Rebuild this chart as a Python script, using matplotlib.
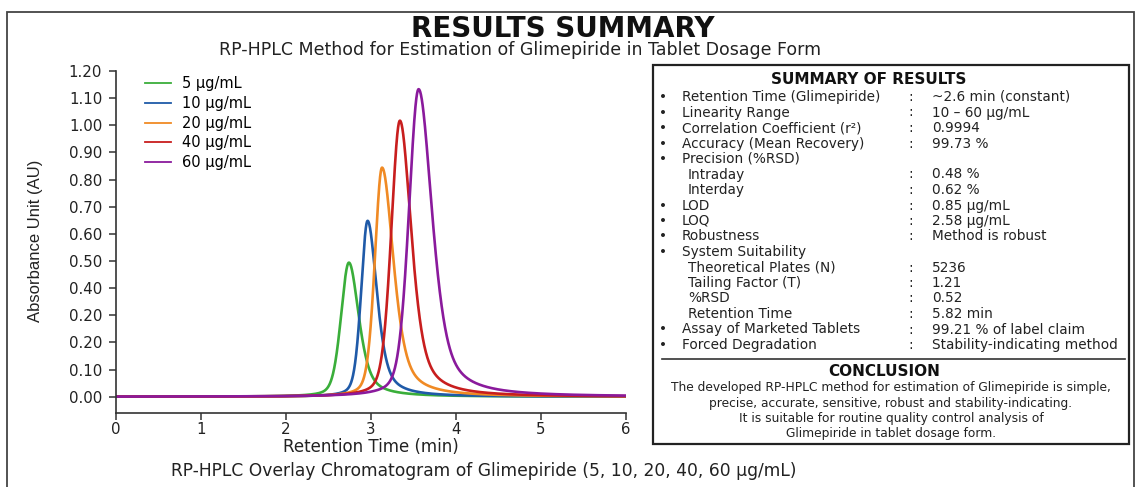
import numpy as np
import matplotlib
matplotlib.use("Agg")
import matplotlib.pyplot as plt
from matplotlib.patches import Rectangle
from matplotlib.lines import Line2D

# ---------------- data ----------------
legend_labels = ["5 µg/mL", "10 µg/mL", "20 µg/mL", "40 µg/mL", "60 µg/mL"]
retention_times = [2.74, 2.96, 3.13, 3.34, 3.56]
peak_heights = [0.494, 0.648, 0.844, 1.017, 1.133]
left_hwhm = [0.11, 0.09, 0.10, 0.12, 0.135]
right_hwhm = [0.14, 0.13, 0.16, 0.16, 0.19]
line_colors = ["#3aae3a", "#1f5aa8", "#f08a24", "#c81e1e", "#8a1a9c"]

x_ticks = [0, 1, 2, 3, 4, 5, 6]
y_ticks = [0.0, 0.1, 0.2, 0.3, 0.4, 0.5, 0.6, 0.7, 0.8, 0.9, 1.0, 1.1, 1.2]
y_tick_labels = ["0.00", "0.10", "0.20", "0.20", "0.40", "0.50", "0.60",
                 "0.70", "0.80", "0.90", "1.00", "1.10", "1.20"]

summary_labels = ["Retention Time (Glimepiride)", "Linearity Range",
                  "Correlation Coefficient (r²)", "Accuracy (Mean Recovery)",
                  "Precision (%RSD)", "Intraday", "Interday", "LOD", "LOQ",
                  "Robustness", "System Suitability", "Theoretical Plates (N)",
                  "Tailing Factor (T)", "%RSD", "Retention Time",
                  "Assay of Marketed Tablets", "Forced Degradation"]
summary_values = ["~2.6 min (constant)", "10 – 60 µg/mL", "0.9994", "99.73 %",
                  "", "0.48 %", "0.62 %", "0.85 µg/mL", "2.58 µg/mL",
                  "Method is robust", "", "5236", "1.21", "0.52", "5.82 min",
                  "99.21 % of label claim", "Stability-indicating method"]
summary_is_sub = [False, False, False, False, False, True, True, False, False,
                  False, False, True, True, True, True, False, False]
conclusion_lines = [
    "The developed RP-HPLC method for estimation of Glimepiride is simple,",
    "precise, accurate, sensitive, robust and stability-indicating.",
    "It is suitable for routine quality control analysis of",
    "Glimepiride in tablet dosage form.",
]

# ---------------- figure ----------------
W, H = 1138, 487
fig = plt.figure(figsize=(W / 100, H / 100), dpi=100)
fig.patch.set_facecolor("white")


def fx(px):
    return px / W


def fy(py):
    return 1 - py / H


# outer frame
fig.patches.append(Rectangle((fx(7), fy(500)), fx(1134) - fx(7), fy(12) - fy(500),
                             transform=fig.transFigure, fill=False,
                             edgecolor="#444444", linewidth=1.3))

fig.text(fx(563), fy(29), "RESULTS SUMMARY", ha="center", va="center",
         fontsize=20, fontweight="bold", color="#111111")
fig.text(fx(520), fy(50), "RP-HPLC Method for Estimation of Glimepiride in Tablet Dosage Form",
         ha="center", va="center", fontsize=12.5, color="#222222")

# ---------------- chromatogram ----------------
ax = fig.add_axes([fx(116), fy(413), fx(626) - fx(116), fy(71) - fy(413)])
t = np.linspace(0, 6, 3000)
eta_left, eta_right = 0.3, 0.6


def peak(tt, tr, h, wl, wr):
    left = tt < tr
    w = np.where(left, wl, wr)
    eta = np.where(left, eta_left, eta_right)
    z = (tt - tr) / w
    return h * (eta / (1 + z ** 2) + (1 - eta) * np.exp(-np.log(2) * z ** 2))


handles = []
for lab, tr, h, wl, wr, c in zip(legend_labels, retention_times, peak_heights,
                                  left_hwhm, right_hwhm, line_colors):
    ax.plot(t, peak(t, tr, h, wl, wr), color=c, lw=1.9, label=lab)
    handles.append(Line2D([], [], color=c, lw=1.3))

ax.set_xlim(0, 6)
ax.set_ylim(-0.06, 1.2)
ax.set_xticks(x_ticks)
ax.set_yticks(y_ticks)
ax.set_yticklabels(y_tick_labels)
for s in ["top", "right"]:
    ax.spines[s].set_visible(False)
for s in ["left", "bottom"]:
    ax.spines[s].set_color("#333333")
    ax.spines[s].set_linewidth(1.2)
ax.tick_params(axis="both", direction="out", length=5, width=1.1,
               color="#333333", labelsize=10.8, labelcolor="#222222")
ax.tick_params(axis="y", pad=5)
ax.tick_params(axis="x", pad=1.5)
ax.set_xlabel("Retention Time (min)", fontsize=12, color="#222222", labelpad=1)

fig.text(fx(36), fy(241), "Absorbance Unit (AU)", rotation=90, ha="center",
         va="center", fontsize=12, color="#222222",
         family=["Liberation Sans Narrow", "Liberation Sans", "DejaVu Sans"])

ax.legend(handles, legend_labels, loc="upper left",
          bbox_to_anchor=((145 - 116) / 510, (413 - 76) / 342),
          frameon=False, fontsize=10.5, handlelength=1.8, handletextpad=0.75,
          labelspacing=0.33, borderpad=0, borderaxespad=0)

fig.text(fx(484), fy(471),
         "RP-HPLC Overlay Chromatogram of Glimepiride (5, 10, 20, 40, 60 µg/mL)",
         ha="center", va="center", fontsize=12.3, color="#222222")

# ---------------- summary box ----------------
fig.patches.append(Rectangle((fx(653), fy(444)), fx(1129) - fx(653), fy(65) - fy(444),
                             transform=fig.transFigure, facecolor="white",
                             edgecolor="#222222", linewidth=1.6))
fig.text(fx(869), fy(79), "SUMMARY OF RESULTS", ha="center", va="center",
         fontsize=11, fontweight="bold", color="#111111")

row_fs = 9.8
for i, (lab, val, sub) in enumerate(zip(summary_labels, summary_values, summary_is_sub)):
    py = 97 + 15.5 * i
    if sub:
        fig.text(fx(688), fy(py), lab, ha="left", va="center", fontsize=row_fs, color="#222222")
    else:
        fig.text(fx(659), fy(py), "•", ha="left", va="center", fontsize=row_fs, color="#222222")
        fig.text(fx(682), fy(py), lab, ha="left", va="center", fontsize=row_fs, color="#222222")
    if val:
        fig.text(fx(908), fy(py), ":", ha="left", va="center", fontsize=row_fs, color="#222222")
        fig.text(fx(932), fy(py), val, ha="left", va="center", fontsize=row_fs, color="#222222")

fig.lines.append(Line2D([fx(662), fx(1125)], [fy(359), fy(359)], transform=fig.transFigure,
                        color="#333333", lw=1.2))
fig.text(fx(884), fy(371), "CONCLUSION", ha="center", va="center",
         fontsize=11, fontweight="bold", color="#111111")
for i, line in enumerate(conclusion_lines):
    fig.text(fx(891), fy(387.5 + 15.5 * i), line, ha="center", va="center",
             fontsize=8.8, color="#222222")

fig.savefig("out.png", dpi=100)
